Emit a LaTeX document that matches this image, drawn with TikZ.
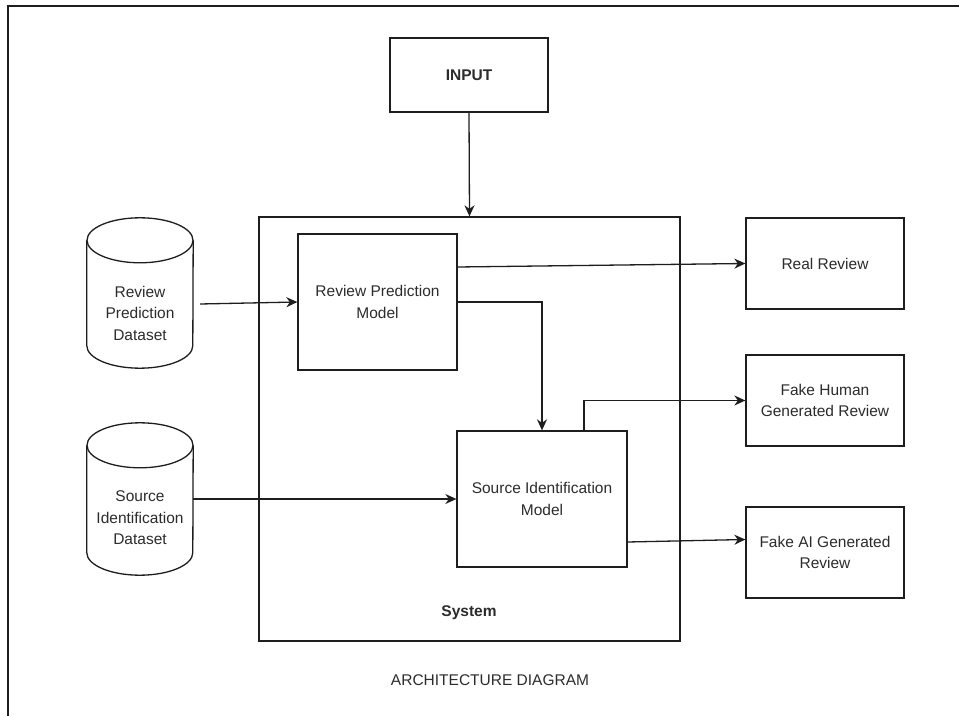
\documentclass[tikz,border=0pt]{standalone}
\usepackage{fontspec}
\setmainfont{Liberation Sans}
\usetikzlibrary{arrows.meta}
\definecolor{ink}{HTML}{1E1E1E}
\definecolor{txt}{HTML}{2C2C2C}
\begin{document}
\begin{tikzpicture}[x=1pt,y=1pt,
  every node/.style={font=\fontsize{15.5}{21.5}\selectfont, text=txt},
  box/.style={draw=ink, line width=1.3pt, rectangle, inner sep=0pt, align=center},
  ghost/.style={rectangle, inner sep=0pt},
  conn/.style={draw=ink, line width=1.3pt},
  arr/.style={conn, -{Stealth[length=11pt,width=10pt,inset=3.5pt]}},
  dbtext/.style={align=center}
]
\useasboundingbox (0,0) rectangle (959,716);
\fill[white] (0,0) rectangle (959,716);

% page frame (open to the right and bottom)
\draw[ink, line width=2pt] (8,0) -- (8,710) -- (959,710);

% main boxes
\node[box, minimum width=158, minimum height=74, font=\fontsize{15.5}{21.5}\selectfont\bfseries] (input) at (469,641) {INPUT};
\node[box, minimum width=421, minimum height=424] (sys) at (469.5,287) {};
\node[font=\fontsize{15.5}{21.5}\selectfont\bfseries] (syslbl) at (469,103) {System};
\node[box, minimum width=159, minimum height=136] (rpm) at (377.5,414) {Review Prediction\\Model};
\node[box, minimum width=170, minimum height=136] (sim) at (542,217) {Source Identification\\Model};

% outcome boxes
\node[box, minimum width=158, minimum height=91] (real) at (825,452.5) {Real Review};
\node[box, minimum width=158, minimum height=91] (fhum) at (825,315.5) {Fake Human\\Generated Review};
\node[box, minimum width=158, minimum height=91] (fai) at (825,163.5) {Fake AI Generated\\Review};

% datasets (cylinders)
\node[ghost, minimum width=106, minimum height=150] (rpd) at (140,423) {};
\node[ghost, minimum width=106, minimum height=152] (sid) at (140,217) {};
\foreach \n in {rpd,sid}{
  \draw[ink, line width=1.3pt]
    ([yshift=-22.5pt]\n.north west) -- ([yshift=22.5pt]\n.south west)
    arc[start angle=180, end angle=360, x radius=53, y radius=22.5]
    -- ([yshift=-22.5pt]\n.north east);
  \draw[ink, line width=1.3pt] ([yshift=-22.5pt]\n.north) ellipse[x radius=53, y radius=22.5];
}
\node[dbtext] (rpdtxt) at (140,403) {Review\\Prediction\\Dataset};
\node[dbtext] (sidtxt) at (140,198) {Source\\Identification\\Dataset};

% caption
\node (cap) at (490,36) {ARCHITECTURE DIAGRAM};

% connectors
\draw[arr] (input.south) -- (sys.north);
\draw[arr] ([xshift=7pt,yshift=-2pt]rpd.east |- rpm.west) -- (rpm.west);
\draw[arr] (sid.east |- sim.west) -- (sim.west);
\draw[arr] ([yshift=35pt]rpm.east) -- (real.west);
\draw[arr] (rpm.east) -| (sim.north);
\draw[arr] ([xshift=42pt]sim.north) |- (fhum.west);
\draw[arr] ([yshift=-43pt]sim.east) -- ([yshift=13pt]fai.west);
\end{tikzpicture}
\end{document}
